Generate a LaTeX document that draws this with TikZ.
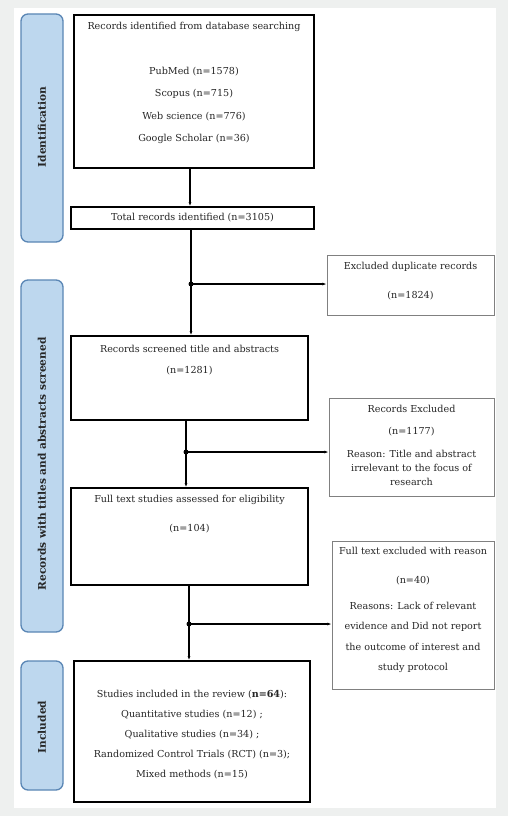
\documentclass[tikz,border=0pt]{standalone}
\usepackage{fontspec}
\setmainfont{DejaVu Serif}
\newfontfamily\lblfont{DejaVu Serif}
\usetikzlibrary{arrows.meta,calc}
\definecolor{bggray}{HTML}{EEF0EF}
\definecolor{barfill}{HTML}{BDD7EE}
\definecolor{barline}{HTML}{5A86B5}
\definecolor{sidegray}{HTML}{808080}
\begin{document}
\begin{tikzpicture}[x=1pt,y=1pt,
  mainbox/.style={draw=black,line width=1.6pt,inner sep=0pt,fill=white},
  sidebox/.style={draw=sidegray,line width=0.9pt,inner sep=0pt,fill=white},
  bar/.style={draw=barline,fill=barfill,line width=1.3pt,rounded corners=7pt,inner sep=0pt,minimum width=42pt},
  barlbl/.style={rotate=90,font=\lblfont\bfseries\fontsize{10.6}{12}\selectfont,text=black!85},
  txt/.style={font=\fontsize{9.6}{11}\selectfont,text=black!85,inner sep=0pt,align=center},
  conn/.style={line width=1.1pt,-{Latex[length=4.2pt,width=3pt]}},
  line/.style={line width=1.1pt},
  dot/.style={circle,fill=black,inner sep=0pt,minimum size=5pt}
]
\useasboundingbox (0,0) rectangle (508,-816);
\fill[bggray] (0,0) rectangle (508,-816);
\fill[white] (14,-8) rectangle (496,-808);

% side bars
\node[bar,minimum height=228pt] (bar1) at (42,-128) {};
\node[bar,minimum height=352pt] (bar2) at (42,-456) {};
\node[bar,minimum height=129pt] (bar3) at (42,-725.5) {};
\node[barlbl] (lbl1) at (42,-127) {Identification};
\node[barlbl] (lbl2) at (42,-464) {Records with titles and abstracts screened};
\node[barlbl] (lbl3) at (42,-727) {Included};

% main boxes
\node[mainbox,minimum width=240pt,minimum height=153pt] (b1) at (194,-91.5) {};
\node[mainbox,minimum width=243pt,minimum height=22pt] (b2) at (192.5,-218) {};
\node[mainbox,minimum width=237pt,minimum height=84pt] (b3) at (189.5,-378) {};
\node[mainbox,minimum width=237pt,minimum height=97pt] (b4) at (189.5,-536.5) {};
\node[mainbox,minimum width=236pt,minimum height=141pt] (b5) at (192,-731.5) {};

% side boxes
\node[sidebox,minimum width=167pt,minimum height=60pt] (s1) at (410.5,-285) {};
\node[sidebox,minimum width=165pt,minimum height=98pt] (s2) at (411.5,-447) {};
\node[sidebox,minimum width=162pt,minimum height=148pt] (s3) at (413,-615) {};

% texts
\node[txt] (t1a) at (194,-27) {Records identified from database searching};
\node[txt,font=\fontsize{9.6}{22.3}\selectfont] (t1b) at (194,-105.5) {PubMed (n=1578)\\Scopus (n=715)\\Web science (n=776)\\Google Scholar (n=36)};
\node[txt] (t2) at (b2.center) {Total records identified (n=3105)};
\node[txt] (t3a) at (189.5,-349) {Records screened title and abstracts};
\node[txt] (t3b) at (189.5,-371) {(n=1281)};
\node[txt] (t4a) at (189.5,-500) {Full text studies assessed for eligibility};
\node[txt] (t4b) at (189.5,-529) {(n=104)};
\node[txt,font=\fontsize{9.6}{20.2}\selectfont] (t5) at (192,-734.5) {Studies included in the review (\textbf{n=64}):\\Quantitative studies (n=12) ;\\Qualitative studies (n=34) ;\\Randomized Control Trials (RCT) (n=3);\\Mixed methods (n=15)};
\node[txt] (s1a) at (410.5,-267) {Excluded duplicate records};
\node[txt] (s1b) at (410.5,-296) {(n=1824)};
\node[txt] (s2a) at (411.5,-409) {Records Excluded};
\node[txt] (s2b) at (411.5,-432) {(n=1177)};
\node[txt,font=\fontsize{9.6}{14}\selectfont] (s2c) at (411.5,-468) {Reason: Title and abstract\\irrelevant to the focus of\\research};
\node[txt] (s3a) at (413,-551) {Full text excluded with reason};
\node[txt] (s3b) at (413,-581) {(n=40)};
\node[txt,font=\fontsize{9.6}{20.3}\selectfont] (s3c) at (413,-637.5) {Reasons: Lack of relevant\\evidence and Did not report\\the outcome of interest and\\study protocol};

% connectors
\coordinate (x1) at (190,0);
\draw[conn] (b1.south -| x1) -- (b2.north -| x1);

\coordinate (j2) at (191,-284);
\draw[line] (b2.south -| j2) -- (j2);
\draw[conn] (j2) -- (b3.north -| j2);
\draw[conn] (j2) -- (j2 -| s1.west);
\node[dot] (d2) at (j2) {};

\coordinate (j3) at (186,-452);
\draw[line] (b3.south -| j3) -- (j3);
\draw[conn] (j3) -- (b4.north -| j3);
\draw[conn] (j3) -- (j3 -| s2.west);
\node[dot] (d3) at (j3) {};

\coordinate (j4) at (189,-624);
\draw[line] (b4.south -| j4) -- (j4);
\draw[conn] (j4) -- (b5.north -| j4);
\draw[conn] (j4) -- (j4 -| s3.west);
\node[dot] (d4) at (j4) {};
\end{tikzpicture}
\end{document}
